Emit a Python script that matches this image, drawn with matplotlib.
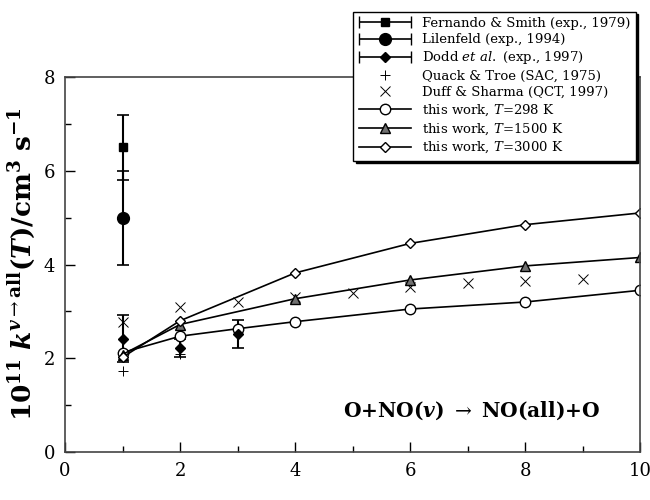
import numpy as np
import matplotlib.pyplot as plt
from matplotlib.ticker import MultipleLocator
from matplotlib.legend_handler import HandlerErrorbar

plt.rcParams["font.family"] = ["DejaVu Serif"]
plt.rcParams["mathtext.fontset"] = "dejavuserif"

# experimental data
fs_v = [1]
fs_k = [6.5]
fs_err = [0.7]

lil_v = [1]
lil_k = [5.0]
lil_err = [1.0]

dodd_v = [1, 2, 3]
dodd_k = [2.42, 2.22, 2.52]
dodd_err = [0.5, 0.2, 0.3]

qt_v = [1, 2]
qt_k = [1.72, 2.1]

ds_v = [1, 2, 3, 4, 5, 6, 7, 8, 9]
ds_k = [2.78, 3.1, 3.2, 3.3, 3.4, 3.52, 3.6, 3.65, 3.7]

# this work
v298 = [1, 2, 3, 4, 6, 8, 10]
k298 = [2.12, 2.47, 2.63, 2.78, 3.05, 3.2, 3.45]
v1500 = [1, 2, 4, 6, 8, 10]
k1500 = [2.08, 2.72, 3.27, 3.67, 3.97, 4.15]
v3000 = [1, 2, 4, 6, 8, 10]
k3000 = [2.02, 2.8, 3.82, 4.45, 4.85, 5.1]


def main() -> None:
    fig = plt.figure(figsize=(6.5, 5), dpi=100)
    ax = fig.add_axes([0.1, 0.096, 0.885, 0.75])

    exp_sets = [
        (fs_v, fs_k, fs_err, "s", 6, "Fernando & Smith (exp., 1979)"),
        (lil_v, lil_k, lil_err, "o", 8.5, "Lilenfeld (exp., 1994)"),
        (dodd_v, dodd_k, dodd_err, "D", 5.5, "Dodd $\\it{et}$ $\\it{al.}$ (exp., 1997)"),
    ]
    handles = []
    for v, k, err, m, ms, lab in exp_sets:
        ax.errorbar(v, k, yerr=err, fmt=m, color="black", ms=ms,
                    capsize=4, elinewidth=1.5, capthick=1.2)
        # legend proxy with horizontal bar, as in the original figure
        proxy = ax.errorbar([np.nan], [np.nan], xerr=[0.1], fmt=m, color="black",
                            ms=ms, capsize=4, elinewidth=1.2, label=lab)
        handles.append(proxy)

    h, = ax.plot(qt_v, qt_k, "+", color="black", ms=7, mew=0.7,
                 linestyle="none", label="Quack & Troe (SAC, 1975)")
    handles.append(h)
    h, = ax.plot(ds_v, ds_k, "x", color="black", ms=7, mew=0.7,
                 linestyle="none", label="Duff & Sharma (QCT, 1997)")
    handles.append(h)
    h, = ax.plot(v298, k298, "-o", color="black", lw=1.2, ms=7.5, mfc="white",
                 mec="black", label="this work, $\\it{T}$=298 K")
    handles.append(h)
    h, = ax.plot(v1500, k1500, "-^", color="black", lw=1.2, ms=6.5, mfc="#707070",
                 mec="black", label="this work, $\\it{T}$=1500 K")
    handles.append(h)
    h, = ax.plot(v3000, k3000, "-D", color="black", lw=1.2, ms=5, mfc="white",
                 mec="black", label="this work, $\\it{T}$=3000 K")
    handles.append(h)

    ax.set_xlim(0, 10)
    ax.set_ylim(0, 8)
    ax.xaxis.set_major_locator(MultipleLocator(2))
    ax.xaxis.set_minor_locator(MultipleLocator(1))
    ax.yaxis.set_major_locator(MultipleLocator(2))
    ax.yaxis.set_minor_locator(MultipleLocator(1))
    ax.tick_params(which="both", direction="in", labelsize=13, width=1)
    ax.tick_params(which="major", length=7, pad=7)
    ax.tick_params(which="minor", length=4)
    for s in ax.spines.values():
        s.set_linewidth(1.2)
        s.set_color("#444444")

    ax.set_ylabel(r"$\mathbf{10^{11}}\ \boldsymbol{k}^{\boldsymbol{v}\rightarrow\mathbf{all}}"
                  r"\mathbf{(}\boldsymbol{T}\mathbf{)/cm^3\ s^{-1}}$",
                  fontsize=19, labelpad=5)
    ax.set_xlabel(r"$\boldsymbol{v}$", fontsize=18, labelpad=14)

    ax.text(0.93, 0.11, r"$\mathbf{O{+}NO(}\boldsymbol{v}\mathbf{)}\ \rightarrow\ \mathbf{NO(all){+}O}$",
            transform=ax.transAxes, ha="right", va="center", fontsize=14.5)

    leg = ax.legend(handles=handles, loc="upper right",
                    bbox_to_anchor=(0.988, 0.99), bbox_transform=fig.transFigure,
                    fontsize=9.5, frameon=True, fancybox=False,
                    shadow={"color": "black", "alpha": 1},
                    handlelength=4, labelspacing=0.25, borderpad=0.4,
                    handler_map={type(handles[0]): HandlerErrorbar(xerr_size=2.0)})
    leg.get_frame().set_edgecolor("black")
    leg.get_frame().set_linewidth(1.0)

    fig.savefig("out.png", dpi=100)


if __name__ == "__main__":
    main()
